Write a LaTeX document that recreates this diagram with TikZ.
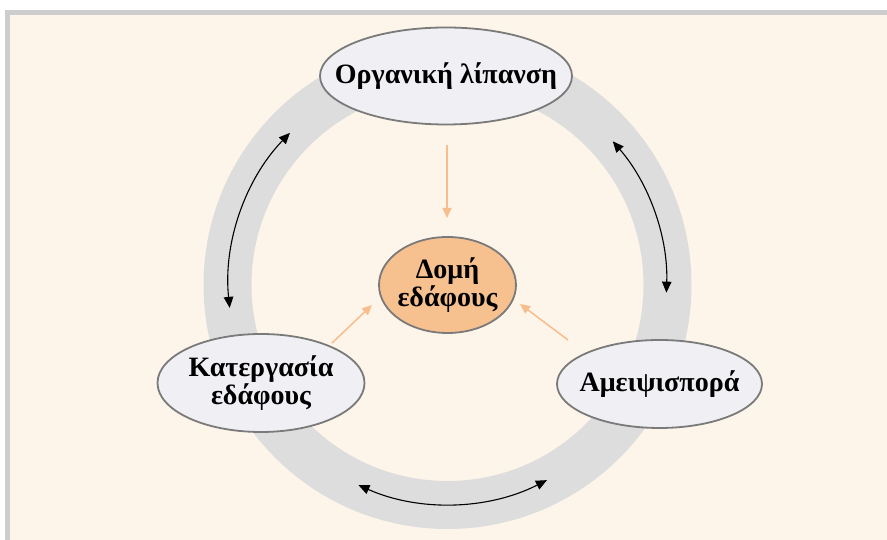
\documentclass[tikz,border=0pt]{standalone}
\usepackage{fontspec}
\setmainfont{Liberation Serif}
\usetikzlibrary{shapes.geometric,arrows.meta}

\definecolor{pagecream}{HTML}{FEF5EA}
\definecolor{framegray}{HTML}{CDCDCD}
\definecolor{ringgray}{HTML}{DDDDDD}
\definecolor{bubblefill}{HTML}{F0EFF4}
\definecolor{bubbleline}{HTML}{7A7A7A}
\definecolor{corefill}{HTML}{F6C08F}
\definecolor{feedline}{HTML}{F7BD8C}

\tikzset{
  bubble/.style={ellipse, draw=bubbleline, line width=1.8pt, fill=bubblefill, inner sep=0pt},
  corebubble/.style={bubble, fill=corefill},
  label text/.style={font=\fontsize{28}{28}\selectfont\bfseries, align=center, inner sep=0pt},
  feed/.style={draw=feedline, line width=1.5pt, -{Triangle[length=10pt,width=9pt]}},
  cycle link/.style={draw=black, line width=1.1pt, {Triangle[length=11pt,width=9.5pt]}-{Triangle[length=11pt,width=9.5pt]}}
}

\begin{document}
\begin{tikzpicture}[x=1pt,y=1pt]
  % page and frame
  \useasboundingbox (0,0) rectangle (887,540);
  \fill[white] (0,0) rectangle (887,540);
  \fill[framegray] (5,0) rectangle (887,530);
  \fill[pagecream] (10,0) rectangle (887,525);

  % grey ring
  \coordinate (hub) at (447.5,255);
  \fill[ringgray, even odd rule] (hub) circle[radius=244] (hub) circle[radius=196];

  % nodes
  \node[bubble, minimum width=252pt, minimum height=97pt] (fert) at (446,464) {};
  \node[label text] (fertT) at (fert) {Οργανική λίπανση};

  \node[corebubble, minimum width=137pt, minimum height=96pt] (core) at (447.5,255) {};
  \node[label text] (coreT) at (core) {Δομή\\εδάφους};

  \node[bubble, minimum width=207pt, minimum height=98pt] (till) at (261,157) {};
  \node[label text] (tillT) at (till) {Κατεργασία\\εδάφους};

  \node[bubble, minimum width=205pt, minimum height=88pt] (rot) at (659.5,156) {};
  \node[label text] (rotT) at (rot) {Αμειψισπορά};

  % feed arrows towards the soil structure
  \coordinate (fertOut) at (447,395);
  \coordinate (fertIn) at (447,322);
  \coordinate (tillOut) at (332,197);
  \coordinate (tillIn) at (372,235);
  \coordinate (rotOut) at (568,200);
  \coordinate (rotIn) at (520,236);
  \draw[feed] (fertOut) -- (fertIn);
  \draw[feed] (tillOut) -- (tillIn);
  \draw[feed] (rotOut) -- (rotIn);

  % two-way links along the ring
  \draw[cycle link] ([shift={(136:219)}]hub) arc[start angle=136, end angle=186, radius=219];
  \draw[cycle link] ([shift={(41:219)}]hub) arc[start angle=41, end angle=-2, radius=219];
  \draw[cycle link] ([shift={(246:219)}]hub) arc[start angle=246, end angle=297, radius=219];
\end{tikzpicture}
\end{document}
